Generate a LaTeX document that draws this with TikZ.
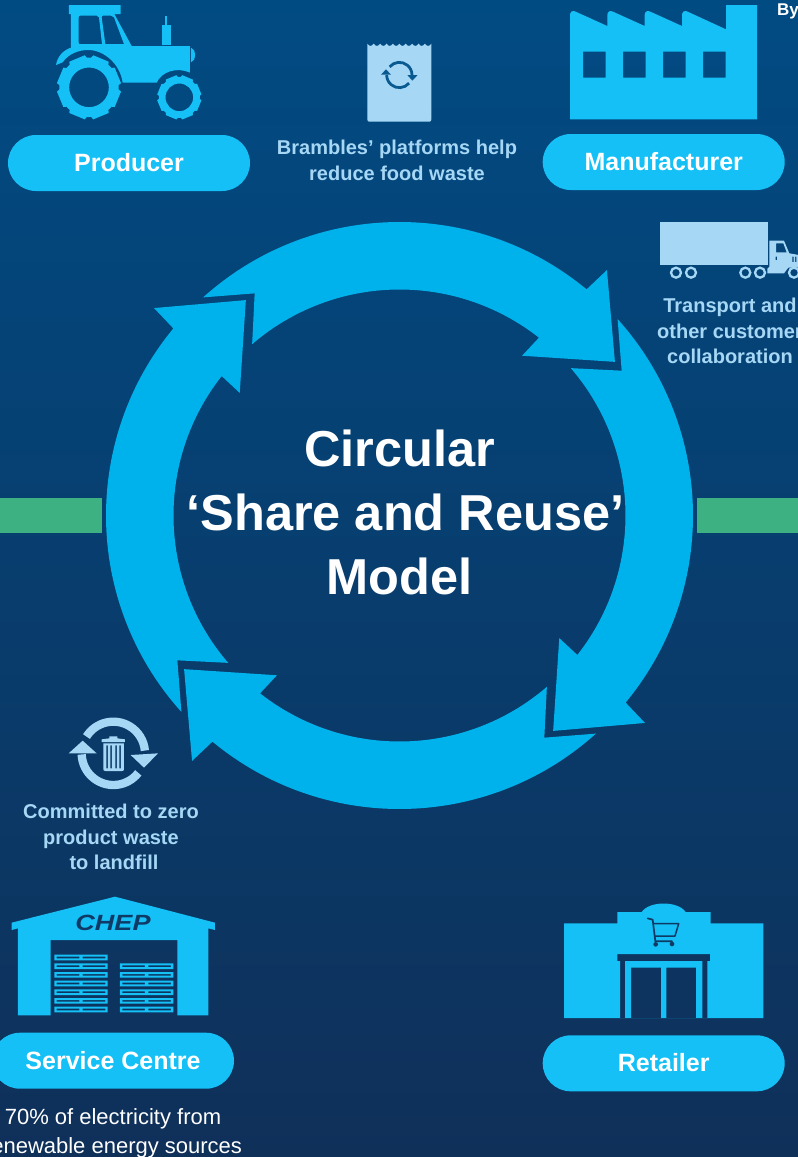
\documentclass[tikz,border=0pt]{standalone}
\usepackage{fontspec}
\setmainfont{Liberation Sans}
\usetikzlibrary{shapes.misc}
\definecolor{icon}{HTML}{14C0F5}
\definecolor{ring}{HTML}{00B2EC}
\definecolor{pale}{HTML}{A6D7F5}
\definecolor{bartop}{HTML}{014B83}
\definecolor{barbot}{HTML}{0F3059}
\definecolor{greenbar}{HTML}{3EB183}
\definecolor{inkdark}{HTML}{0F3A66}
\definecolor{inkblue}{HTML}{0A5A92}
\tikzset{
 pill/.style={rounded rectangle,fill=icon,text=white,minimum width=242pt,minimum height=56pt,inner sep=0pt,font=\bfseries\fontsize{25}{30}\selectfont},
 note/.style={text=pale,align=center,inner sep=0pt,font=\bfseries\fontsize{20}{25.5}\selectfont},
 plain/.style={text=white,align=center,inner sep=0pt,font=\fontsize{22}{29}\selectfont},
 title/.style={text=white,align=center,inner sep=0pt,font=\bfseries\fontsize{50.5}{64}\selectfont},
 zoomed/.style={shift={(#1)},scale=0.33333},
 arrowpart/.style={fill=ring},
 bar/.style={fill=greenbar},
}
\newcommand{\gearicon}[4]{%
 \begin{scope}[shift={(#1,#2)}]
  \fill[icon,even odd rule] (0,0) circle[radius=#3*0.92pt] (0,0) circle[radius=#4 pt];
  \foreach \a in {22.5,67.5,...,360}{
   \fill[icon] (\a-19:#3*0.9) -- (\a-15:#3) -- (\a+15:#3) -- (\a+19:#3*0.9) -- cycle;
  }
 \end{scope}}
\newcommand{\pilltext}[1]{\raisebox{1.5pt}{#1}}
\begin{document}
\begin{tikzpicture}[x=1pt,y=1pt,yscale=-1]
\useasboundingbox (0,0) rectangle (798,1157);
\shade[top color=bartop,bottom color=barbot] (0,0) rectangle (798,1157);
% green bars
\fill[bar] (0,498) rectangle (102,533);
\fill[bar] (697,498) rectangle (798,533);
% ring of four arrows
\begin{scope}[shift={(399.5,515.5)}]
\foreach \t in {0,90,180,270}{
 \fill[arrowpart] (\t-132:293.5) arc[start angle=\t-132,end angle=\t-50.4,radius=293.5pt]
   -- (\t-49.8:321.4) -- (\t-35.5:264.6) -- (\t-52.5:201.4) -- (\t-51.9:226)
   arc[start angle=\t-51.9,end angle=\t-130.7,radius=226pt]
   -- (\t-123.1:265.2) -- cycle;
}
\end{scope}
\node[title] (model) at (399.5,512) {Circular\\\hspace*{12pt}‘Share and Reuse’\\Model};
% pills
\node[pill] (producer) at (129,163) {\pilltext{Producer}};
\node[pill] (manufacturer) at (663.7,162) {\pilltext{Manufacturer}};
\node[pill] (service) at (113,1060.7) {\pilltext{Service Centre}};
\node[pill] (retailer) at (663.7,1063.3) {\pilltext{Retailer}};
% notes
\node[note] (brambles) at (397,160.5) {Brambles’ platforms help\\reduce food waste};
\node[note] (transport) at (730,331) {Transport and\\other customer\\collaboration};
\node[note] (zero) at (111,837) {Committed to zero\\product waste\\\hspace*{6pt}to landfill};
\node[plain] (electricity) at (113,1133) {70\% of electricity from\\renewable energy sources};
\node[text=white,inner sep=0pt,anchor=base west,font=\bfseries\fontsize{17}{20}\selectfont] (by) at (777,15) {By};
% tractor
\begin{scope}[zoomed={0,0}]
 \fill[icon,even odd rule]
  (168,195) .. controls (172,170) and (190,150) .. (213,143) -- (213,42) -- (207,42) -- (207,15) -- (362,15) -- (362,42) -- (343,42) -- (395,138) -- (570,138) -- (570,218)
  .. controls (530,200) and (485,215) .. (470,248) -- (368,248)
  .. controls (360,190) and (310,150) .. (265,150) .. controls (235,150) and (205,162) .. (188,187) -- cycle
  (236,52) .. controls (236,47) and (238,47) .. (242,47) -- (290,47) .. controls (295,47) and (296,48) .. (297,52) -- (306,132) -- (238,132) .. controls (236,132) and (236,130) .. (236,128) -- cycle
  (305,52) .. controls (305,47) and (307,47) .. (310,47) -- (333,47) .. controls (338,47) and (340,48) .. (342,52) -- (372,132) -- (316,132) -- cycle;
 \fill[icon] (487,75) rectangle (512,135);
 \fill[icon] (495,48) rectangle (502,75);
 \fill[icon] (573,143) .. controls (590,148) and (590,182) .. (573,187) -- cycle;
\end{scope}
\begin{scope}[scale=0.33333]
 \gearicon{267}{262}{97}{59.5}
 \gearicon{538}{292}{67}{41.5}
\end{scope}
% factory
\begin{scope}[zoomed={530,0}]
 \fill[icon,even odd rule]
  (120,358) -- (120,45) .. controls (120,35) and (128,30) .. (137,35) -- (232,78) -- (232,45) .. controls (232,35) and (240,30) .. (249,35) -- (344,78) -- (344,45) .. controls (344,35) and (352,30) .. (361,35) -- (456,78) -- (456,45) .. controls (456,35) and (464,30) .. (473,35) -- (588,88) -- (588,15) -- (681,15) -- (681,358) -- cycle
  (159,155) rectangle (227,233) (279,155) rectangle (347,233) (399,155) rectangle (467,233) (519,155) rectangle (587,233);
 % truck
 \fill[pale] (390,666) rectangle (714,795);
 \foreach \wx in {438,483,646,690,792}{
  \draw[pale,line width=2.3pt] (\wx,818) circle[radius=15pt];
 }
 \fill[pale,even odd rule] (718,722) -- (762,722) -- (778,760) -- (812,766) -- (812,803) -- (775,803) -- (762,820) -- (712,820) -- (712,806) -- (718,800) -- cycle
  (738,730) -- (760,730) -- (770,757) -- (738,757) -- cycle
  (787,770) rectangle (791,786) (795,770) rectangle (799,786) (737,770) rectangle (741,780);
\end{scope}
% bag
\begin{scope}[zoomed={350,30}]
 \fill[pale] (52,41) \foreach \q in {0,1,...,9}{ .. controls (52+19.2*\q+6,50) and (52+19.2*\q+13,50) .. (52+19.2*\q+19.2,41) } -- (244,268) .. controls (244,273) and (242,275) .. (238,275) -- (58,275) .. controls (54,275) and (52,273) .. (52,268) -- cycle;
 \draw[inkblue,line width=2.8pt] (148,135) ++(-140:38pt) arc[start angle=-140,end angle=0,radius=38pt];
 \draw[inkblue,line width=2.8pt] (148,135) ++(40:38pt) arc[start angle=40,end angle=180,radius=38pt];
 \fill[inkblue] (93,134) -- (123,134) -- (108,118) -- cycle;
 \fill[inkblue] (172,135) -- (203,135) -- (187,152) -- cycle;
\end{scope}
% recycle bin
\begin{scope}[zoomed={0,700}]
 \draw[pale,line width=8.3pt] (340,160) ++(-148:95pt) arc[start angle=-148,end angle=-5,radius=95pt];
 \draw[pale,line width=8.3pt] (340,160) ++(38:95pt) arc[start angle=38,end angle=178,radius=95pt];
 \fill[pale] (206,160) -- (290,160) -- (248,122) -- cycle;
 \fill[pale] (392,165) -- (474,160) -- (432,203) -- cycle;
 \fill[pale] (328,109) -- (352,109) -- (352,115) -- (375,118) -- (375,126) -- (305,126) -- (305,118) -- (328,115) -- cycle;
 \fill[pale,even odd rule] (310,130) -- (372,130) -- (372,207) .. controls (372,211) and (370,213) .. (366,213) -- (316,213) .. controls (312,213) and (310,211) .. (310,207) -- cycle
  (319,136) rectangle (324,205) (331,136) rectangle (336,205) (346,136) rectangle (351,205) (358,136) rectangle (363,205);
\end{scope}
% warehouse
\begin{scope}[zoomed={0,700}]
 \fill[icon] (35,668) -- (345,590) -- (645,668) -- (645,690) -- (625,685) -- (625,946) -- (532,946) -- (532,720) -- (152,720) -- (152,946) -- (54,946) -- (54,685) -- (35,690) -- cycle;
 \foreach \py in {764,790,816,842,868,894,920}{
  \fill[icon,even odd rule] (163,\py) rectangle (323,\py+17) (170,\py+6) rectangle (238,\py+11) (248,\py+6) rectangle (316,\py+11);
 }
 \foreach \py in {790,816,842,868,894,920}{
  \fill[icon,even odd rule] (360,\py) rectangle (520,\py+17) (367,\py+6) rectangle (435,\py+11) (445,\py+6) rectangle (513,\py+11);
 }
\end{scope}
\node[text=inkdark,inner sep=0pt,font=\bfseries\itshape\fontsize{22}{22}\selectfont] (chep) at (113,922.5) {\scalebox{1.23}[1]{CHEP}};
% retailer
\begin{scope}[zoomed={540,890}]
 \fill[icon,even odd rule]
  (72,100) -- (232,100) -- (232,66) -- (305,66) .. controls (328,32) and (414,32) .. (437,66) -- (512,66) -- (512,100) -- (670,100) -- (670,384) -- (72,384) -- cycle
  (232,192) -- (510,192) -- (510,213) -- (502,213) -- (502,384) -- (487,384) -- (487,213) -- (255,213) -- (255,384) -- (240,384) -- (240,213) -- (232,213) -- cycle
  (273,233) rectangle (363,384) (379,233) rectangle (468,384);
 \draw[inkdark,line width=1.7pt,line join=round,line cap=round] (323,85) -- (338,89) -- (346,154) -- (396,154);
 \draw[inkdark,line width=1.5pt,line join=round] (340,101) -- (416,101) -- (405,138) -- (345,138);
 \fill[inkdark] (347,163) circle[radius=7pt] (396,162) circle[radius=7pt];
\end{scope}
\end{tikzpicture}
\end{document}
